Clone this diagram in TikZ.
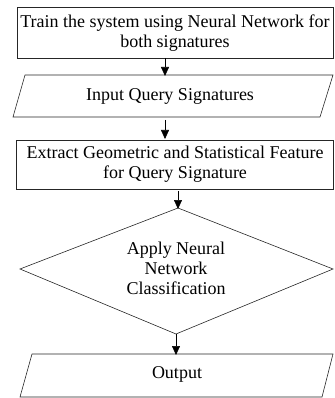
\documentclass[tikz,border=0pt]{standalone}
\usepackage{fontspec}
\setmainfont{Liberation Serif}
\usetikzlibrary{arrows.meta}
\begin{document}
\begin{tikzpicture}[x=1pt,y=-1pt,
  shapeline/.style={draw=black!85,line width=0.6pt},
  flow/.style={draw=black,line width=0.6pt,-{Triangle[width=8pt,length=9pt]}},
  label/.style={inner sep=0pt,align=center,font=\fontsize{18}{20}\selectfont}]
\useasboundingbox (0,0) rectangle (334,398);

% training box
\draw[shapeline] (17,7) rectangle (333,58);
\node[label] (train) at (175,33) {Train the system using Neural Network for\\both signatures};
\coordinate (trainS) at (165,58);

% query input (parallelogram)
\draw[shapeline] (25,75) -- (333,75) -- (320,117) -- (13,117) -- cycle;
\node[label] (input) at (170,96) {Input Query Signatures};
\coordinate (inputN) at (165,76);
\coordinate (inputS) at (165,120);

% feature extraction box
\draw[shapeline] (16,140) rectangle (333,189);
\node[label] (extract) at (175,164) {Extract Geometric and Statistical Feature\\for Query Signature};
\coordinate (extractN) at (165,139);
\coordinate (extractS) at (178,191);

% classification decision
\draw[shapeline] (178,208) -- (333,269) -- (176,334) -- (20,269) -- cycle;
\node[label] (classify) at (176,268) {Apply Neural\\Network\\Classification};
\coordinate (classifyN) at (178,209);
\coordinate (classifyS) at (176,334);

% output (parallelogram)
\draw[shapeline] (32,354) -- (333,354) -- (322,397) -- (20,397) -- cycle;
\node[label] (output) at (177,374) {Output};
\coordinate (outputN) at (176,355);

% connectors
\draw[flow] (trainS) -- (inputN);
\draw[flow] (inputS) -- (extractN);
\draw[flow] (extractS) -- (classifyN);
\draw[flow] (classifyS) -- (outputN);
\end{tikzpicture}
\end{document}
